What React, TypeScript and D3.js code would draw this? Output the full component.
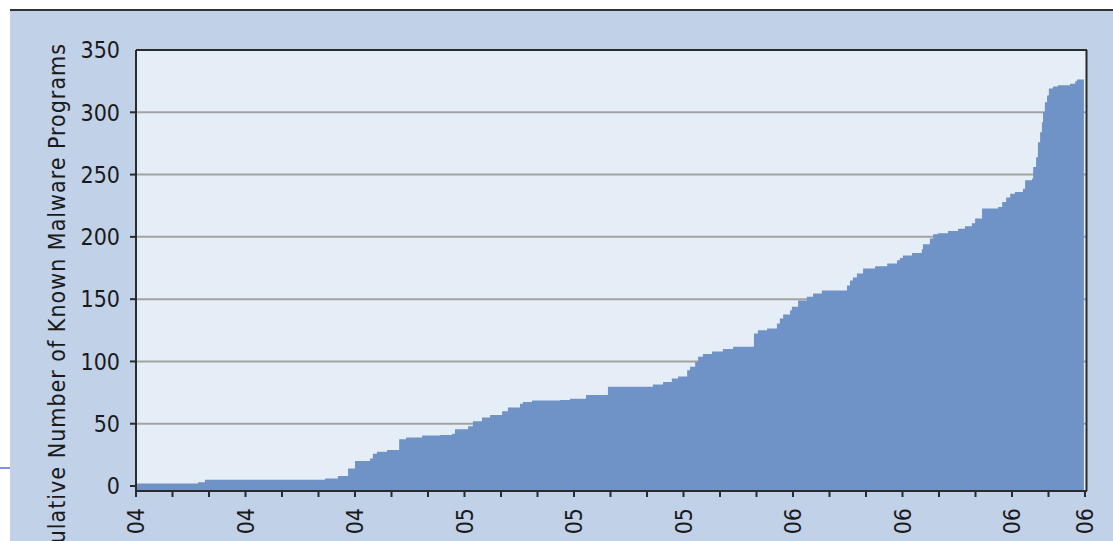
import React from "react";
import * as d3 from "d3";

// Position along the time axis (in axis-tick units, 0..26) where each step begins
const stepX = [
  0.0, 1.7, 1.89, 5.18, 5.53, 5.81, 6.0, 6.41, 6.49, 6.6, 6.88, 7.21, 7.4, 7.84, 8.33, 8.66,
  8.74, 9.1, 9.23, 9.48, 9.7, 10.03, 10.19, 10.52, 10.6, 10.85, 11.62, 11.89, 12.33, 12.93,
  14.16, 14.44, 14.68, 14.85, 15.1, 15.18, 15.32, 15.4, 15.53, 15.78, 16.08, 16.36, 16.93,
  17.04, 17.29, 17.56, 17.64, 17.73, 17.92, 17.97, 18.14, 18.38, 18.55, 18.79, 19.48, 19.56,
  19.64, 19.75, 19.92, 20.25, 20.58, 20.85, 20.93, 21.01, 21.26, 21.53, 21.56, 21.75, 21.84,
  21.97, 22.25, 22.52, 22.71, 22.9, 22.99, 23.18, 23.62, 23.73, 23.84, 23.95, 24.08, 24.3,
  24.36, 24.55, 24.58, 24.66, 24.71, 24.77, 24.82, 24.85, 24.9, 24.96, 25.01, 25.12, 25.26,
  25.59, 25.73, 25.78, 25.97,
];
// Cumulative number of known malware programs at each step
const stepY = [
  2, 3, 5, 6, 8, 14, 20, 22, 26, 27.5, 29, 37.5, 39, 40.5, 41, 42,
  45.5, 48, 52, 55, 57, 60, 63, 66, 67.5, 68.7, 69, 70, 73, 79.6,
  81.5, 83.4, 86.4, 88, 93, 95.7, 99.7, 103.7, 106, 108, 110, 111.7, 122.5,
  125, 126.5, 130.5, 134.5, 137.7, 141, 144, 149, 152, 154.5, 157, 161, 165,
  167.4, 170.6, 174.6, 176.4, 178.6, 181.2, 183, 185, 187, 190, 194, 198.6, 202,
  203, 204.7, 206.6, 208.5, 211, 214.7, 222.7, 224, 228, 231.5, 234.7, 236, 238.7,
  245.4, 246.8, 256, 264, 276, 284, 292, 300, 308, 313.5, 319, 320.8, 321.8,
  323, 325, 326.4, 326.4,
];

const yTicks = [0, 50, 100, 150, 200, 250, 300, 350];
const gridValues = [50, 100, 150, 200, 250, 300];
const minorTicks = d3.range(0, 27);
const majorTickIdx = [0, 3, 6, 9, 12, 15, 18, 21, 24, 26];
const majorLabels = ["04", "04", "04", "05", "05", "05", "06", "06", "06", "06"];
const yTitle = "Cumulative Number of Known Malware Programs";

const W = 1113;
const H = 541;
const plot = { left: 136, right: 1085, top: 50, bottom: 491 };
const FONT = "'DejaVu Sans Condensed', 'DejaVu Sans', sans-serif";

export default function App() {
  const x = d3.scaleLinear().domain([0, 26]).range([plot.left, plot.right]);
  const y = d3.scaleLinear().domain([-4, 350]).range([plot.bottom, plot.top]);

  const pts = stepX.map((v, i) => [v, stepY[i]] as [number, number]);
  const area = d3
    .area<[number, number]>()
    .x((d) => x(d[0]))
    .y0(y(-4))
    .y1((d) => y(d[1]))
    .curve(d3.curveStepAfter)(pts);

  const fs = 23;

  return (
    <svg
      width={W}
      height={H}
      style={{ position: "absolute", left: 0, top: 0, display: "block" }}
      fontFamily={FONT}
    >
      <rect x={0} y={0} width={W} height={H} fill="#ffffff" />
      {/* outer panel */}
      <rect x={10} y={10} width={W - 10} height={H - 10} fill="#c1d1e8" />
      <line x1={10} x2={W} y1={10} y2={10} stroke="#333333" strokeWidth={2} />
      <line x1={0} x2={10} y1={468} y2={468} stroke="#5a6fd8" strokeWidth={1.5} />

      {/* plot background */}
      <rect
        x={plot.left}
        y={plot.top}
        width={plot.right + 1 - plot.left}
        height={plot.bottom - plot.top}
        fill="#e5edf6"
      />
      {/* gridlines */}
      {gridValues.map((v) => (
        <line
          key={v}
          x1={plot.left}
          x2={plot.right + 1}
          y1={y(v)}
          y2={y(v)}
          stroke="#a3a3a3"
          strokeWidth={2}
        />
      ))}
      {/* area */}
      <path d={area ?? ""} fill="#6f93c6" />

      {/* frame */}
      <line x1={plot.left} x2={plot.right + 2} y1={plot.top} y2={plot.top} stroke="#2b2b2b" strokeWidth={2} />
      <line x1={plot.right + 1.5} x2={plot.right + 1.5} y1={plot.top} y2={plot.bottom} stroke="#2b2b2b" strokeWidth={2} />
      <line x1={plot.left} x2={plot.left} y1={plot.top} y2={plot.bottom + 1} stroke="#2b2b2b" strokeWidth={2} />
      <line x1={plot.left - 1} x2={plot.right + 2} y1={plot.bottom} y2={plot.bottom} stroke="#2b2b2b" strokeWidth={2} />

      {/* y ticks and labels */}
      {yTicks.map((v) => (
        <g key={v}>
          {v !== 350 && (
            <line x1={plot.left - 6} x2={plot.left} y1={y(v)} y2={y(v)} stroke="#2b2b2b" strokeWidth={2} />
          )}
          <text
            x={plot.left - 16}
            y={y(v)}
            dy="0.36em"
            textAnchor="end"
            fontSize={fs}
            fontStretch="condensed"
            fill="#1a1a1a"
          >
            {v}
          </text>
        </g>
      ))}

      {/* x ticks */}
      {minorTicks.map((t) => (
        <line
          key={t}
          x1={x(t)}
          x2={x(t)}
          y1={plot.bottom}
          y2={plot.bottom + 6}
          stroke="#2b2b2b"
          strokeWidth={2}
        />
      ))}
      {majorTickIdx.map((t, i) => (
        <text
          key={t}
          transform={`translate(${x(t)},${plot.bottom + 17}) rotate(-90)`}
          dy="0.36em"
          textAnchor="end"
          fontSize={fs}
          fontStretch="condensed"
          fill="#1a1a1a"
        >
          {majorLabels[i]}
        </text>
      ))}

      {/* y title */}
      <text
        transform={`translate(57,43) rotate(-90)`}
        dy="0.36em"
        textAnchor="end"
        fontSize={fs}
        fontStretch="condensed"
        letterSpacing={1}
        fill="#1a1a1a"
      >
        {yTitle}
      </text>
    </svg>
  );
}
